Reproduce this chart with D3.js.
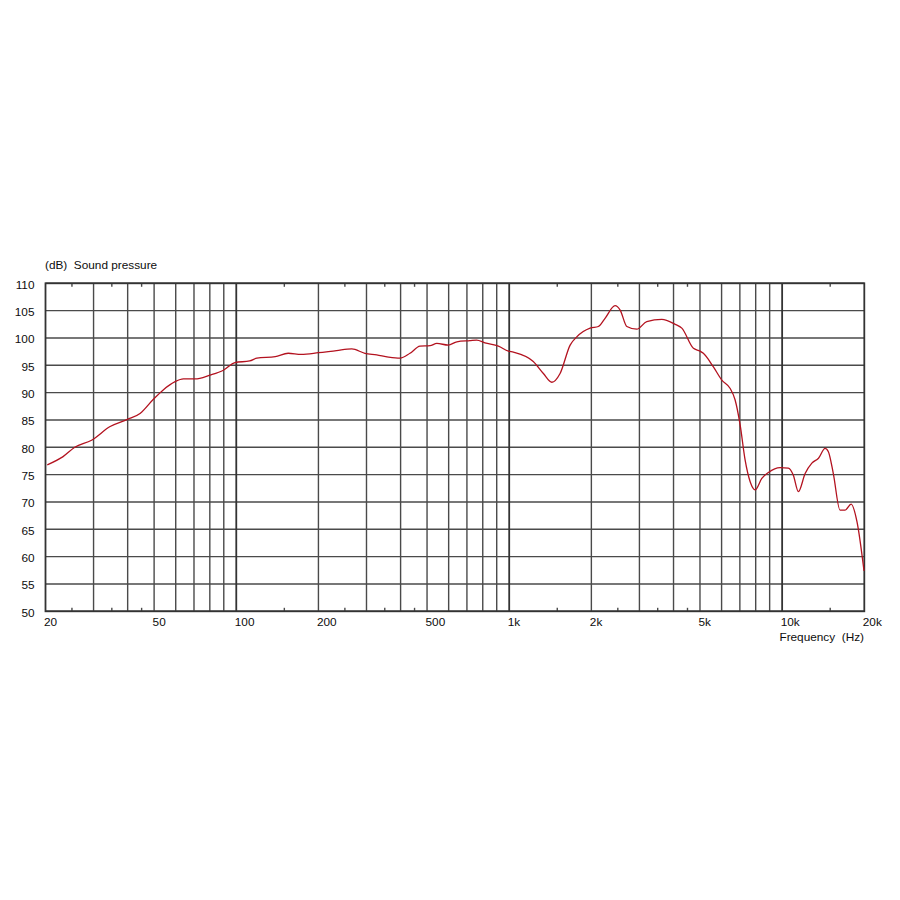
<!DOCTYPE html>
<html>
<head>
<meta charset="utf-8">
<script src="https://cdn.jsdelivr.net/npm/d3@7"></script>
<style>
  body { margin: 0; background: #fff; }
  text { font-family: "Liberation Sans", Arial, sans-serif; fill: #0d0d0d; white-space: pre; }
</style>
</head>
<body>
<svg id="chart" width="900" height="900"></svg>
<script>
// frequency response readings (Hz, dB)
const freqs = [20.3, 23.2, 25.6, 29.5, 34.5, 39.9, 44.4, 49.7, 54, 59.7, 64, 70.6, 80.1, 89.7, 98.9,
  112, 119, 139, 155, 173, 200, 233, 265, 296, 327, 361, 398, 433, 471, 513, 543, 598, 643, 718, 760,
  815, 913, 993, 1036, 1225, 1334, 1433, 1536, 1672, 1768, 1979, 2122, 2245, 2443, 2550, 2698, 2934,
  3191, 3623, 4055, 4290, 4731, 5004, 5144, 5600, 6010, 6443, 6722, 7016, 7316, 7636, 7962, 8424,
  8906, 9829, 10540, 10990, 11470, 12140, 12850, 13590, 14370, 14770, 15400, 16300, 17000, 17900,
  18800, 19950];
const spl = [76.8, 78.3, 80.0, 81.3, 83.8, 85.1, 86.2, 88.8, 90.5, 92.0, 92.5, 92.5, 93.2, 94.1, 95.5,
  95.8, 96.3, 96.6, 97.2, 97.0, 97.3, 97.7, 98.0, 97.2, 96.9, 96.5, 96.3, 97.2, 98.5, 98.6, 99.0, 98.7,
  99.3, 99.5, 99.6, 99.1, 98.5, 97.6, 97.4, 95.7, 93.5, 91.9, 93.5, 98.7, 100.2, 101.8, 102.1, 103.6,
  105.9, 105.1, 102.1, 101.6, 103.0, 103.4, 102.5, 101.8, 98.1, 97.6, 97.2, 94.7, 92.3, 90.8, 88.7,
  84.1, 77.7, 73.7, 72.2, 74.3, 75.4, 76.3, 76.2, 74.9, 71.9, 75.2, 77.1, 78.0, 79.8, 79.2, 75.2,
  68.5, 68.5, 69.6, 66.4, 57.4];

const gridFreqs = [30, 40, 50, 60, 70, 80, 90, 100, 200, 300, 400, 500, 600, 700, 800, 900,
  1000, 2000, 3000, 4000, 5000, 6000, 7000, 8000, 9000, 10000];
const decadeFreqs = [100, 1000, 10000];
const minorFreqs = [25, 35, 45, 150, 250, 350, 450, 1500, 2500, 3500, 4500, 15000];
const xTickVals = [20, 50, 100, 200, 500, 1000, 2000, 5000, 10000, 20000];
const xTickLabels = ["20", "50", "100", "200", "500", "1k", "2k", "5k", "10k", "20k"];
const yTicks = [50, 55, 60, 65, 70, 75, 80, 85, 90, 95, 100, 105, 110];

const plotLeft = 45.5, plotRight = 864.3, plotTop = 283.3, plotBottom = 611.3;

const svg = d3.select("#chart");
const x = d3.scaleLog().domain([20, 20000]).range([plotLeft, plotRight]);
const y = d3.scaleLinear().domain([50, 110]).range([plotBottom, plotTop]);

const grid = svg.append("g");

// horizontal grid
grid.selectAll(".hg")
  .data(yTicks)
  .enter().append("line")
  .attr("x1", plotLeft).attr("x2", plotRight)
  .attr("y1", d => y(d)).attr("y2", d => y(d))
  .attr("stroke", "#4a4a4a")
  .attr("stroke-width", 1.4);

// vertical grid
grid.selectAll(".vg")
  .data(gridFreqs)
  .enter().append("line")
  .attr("x1", d => x(d)).attr("x2", d => x(d))
  .attr("y1", plotTop).attr("y2", plotBottom)
  .attr("stroke", d => decadeFreqs.includes(d) ? "#333" : "#4a4a4a")
  .attr("stroke-width", d => decadeFreqs.includes(d) ? 1.8 : 1.4);

// small ticks, top and bottom
minorFreqs.forEach(f => {
  grid.append("line")
    .attr("x1", x(f)).attr("x2", x(f))
    .attr("y1", plotTop).attr("y2", plotTop + 3.5)
    .attr("stroke", "#4a4a4a").attr("stroke-width", 1.4);
  grid.append("line")
    .attr("x1", x(f)).attr("x2", x(f))
    .attr("y1", plotBottom).attr("y2", plotBottom - 3.5)
    .attr("stroke", "#4a4a4a").attr("stroke-width", 1.4);
});

// frame
grid.append("rect")
  .attr("x", plotLeft).attr("y", plotTop)
  .attr("width", plotRight - plotLeft).attr("height", plotBottom - plotTop)
  .attr("fill", "none")
  .attr("stroke", "#333")
  .attr("stroke-width", 1.8);

// y labels
svg.selectAll(".yl")
  .data(yTicks)
  .enter().append("text")
  .attr("x", 34.5)
  .attr("y", d => y(d) + 5.5)
  .attr("text-anchor", "end")
  .attr("font-size", "11.8px")
  .text(d => d);

// x labels
svg.selectAll(".xl")
  .data(xTickVals)
  .enter().append("text")
  .attr("x", d => x(d) - 1.5)
  .attr("y", 626)
  .attr("font-size", "11.8px")
  .text((d, i) => xTickLabels[i]);

svg.append("text")
  .attr("x", 45)
  .attr("y", 269)
  .attr("font-size", "11.8px")
  .text("(dB)  Sound pressure");

svg.append("text")
  .attr("x", 864)
  .attr("y", 641)
  .attr("text-anchor", "end")
  .attr("font-size", "11.8px")
  .text("Frequency  (Hz)");

// response curve
const line = d3.line()
  .x((d, i) => x(freqs[i]))
  .y(d => y(d))
  .curve(d3.curveMonotoneX);

svg.append("path")
  .datum(spl)
  .attr("d", line)
  .attr("fill", "none")
  .attr("stroke", "#b3121f")
  .attr("stroke-width", 1.3);
</script>
</body>
</html>
